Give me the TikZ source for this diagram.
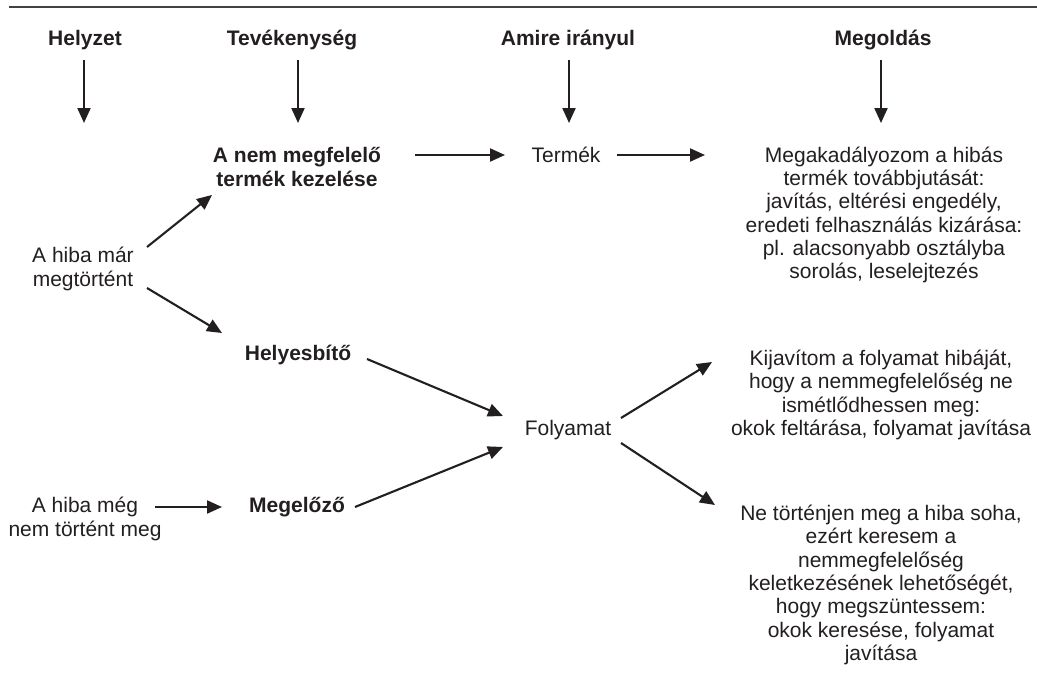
\documentclass[tikz,border=0pt]{standalone}
\usepackage{fontspec}
\setmainfont{Liberation Sans}
\usetikzlibrary{arrows.meta}
\definecolor{ink}{HTML}{231F20}
\tikzset{
  txt/.style={text=ink, inner sep=0pt, align=center, font=\fontsize{21}{23.3}\selectfont},
  head/.style={txt, font=\fontsize{21}{23.3}\selectfont\bfseries},
  bold/.style={txt, font=\fontsize{21}{23.3}\selectfont\bfseries},
  arr/.style={draw=ink, line width=2.1pt, -{Triangle[length=15pt,width=13pt]}},
}
\begin{document}
\begin{tikzpicture}[x=1pt,y=-1pt]
\useasboundingbox (0,0) rectangle (1037,680);
\fill[white] (0,0) rectangle (1037,680);

% rule across the top
\draw[ink!85, line width=1.5pt] (9,7) -- (1037,7);

% column headings
\node[head] (hHelyzet) at (85,40) {Helyzet};
\node[head] (hTev) at (292,40) {Tevékenység};
\node[head] (hAmire) at (568,40) {Amire irányul};
\node[head] (hMeg) at (883,40) {Megoldás};

\coordinate (dHelyzet) at (84,123);
\coordinate (dTev) at (298,123);
\coordinate (dAmire) at (569,123);
\coordinate (dMeg) at (881,123);

\draw[arr] ([shift={(-1,20)}]hHelyzet.center) -- (dHelyzet);
\draw[arr] ([shift={(6,20)}]hTev.center) -- (dTev);
\draw[arr] ([shift={(1,20)}]hAmire.center) -- (dAmire);
\draw[arr] ([shift={(-2,20)}]hMeg.center) -- (dMeg);

% situations
\node[txt] (mar) at (83,269) {A hiba már\\megtörtént};
\node[txt] (meg) at (85,519) {A hiba még\\nem történt meg};

% activities
\node[bold] (kezeles) at (297,167) {A nem megfelelő\\termék kezelése};
\node[bold] (helyes) at (298,355) {Helyesbítő};
\node[bold] (megelozo) at (297,507) {Megelőző};

% targets
\node[txt] (termek) at (566,155) {Termék};
\node[txt] (folyamat) at (568,430) {Folyamat};

% solutions
\node[txt] (sol1) at (884,215) {Megakadályozom a hibás\\termék továbbjutását:\\javítás, eltérési engedély,\\eredeti felhasználás kizárása:\\pl. alacsonyabb osztályba\\sorolás, leselejtezés};
\node[txt] (sol2) at (881,395) {Kijavítom a folyamat hibáját,\\hogy a nemmegfelelőség ne\\ismétlődhessen meg:\\okok feltárása, folyamat javítása};
\node[txt] (sol3) at (881,585) {Ne történjen meg a hiba soha,\\ezért keresem a\\nemmegfelelőség\\keletkezésének lehetőségét,\\hogy megszüntessem:\\okok keresése, folyamat\\javítása};

% connectors
\draw[arr] ([shift={(64,-22)}]mar.center) -- ([shift={(-85,28)}]kezeles.center);
\draw[arr] ([shift={(64,19)}]mar.center) -- ([shift={(-76,-22)}]helyes.center);
\draw[arr] ([shift={(70,-12)}]meg.center) -- ([shift={(-75,0)}]megelozo.center);
\draw[arr] ([shift={(118,-12)}]kezeles.center) -- ([shift={(-61,0)}]termek.center);
\draw[arr] ([shift={(51,0)}]termek.center) -- ([shift={(-179,-60)}]sol1.center);
\draw[arr] ([shift={(69,4)}]helyes.center) -- ([shift={(-65,-14)}]folyamat.center);
\draw[arr] ([shift={(58,0)}]megelozo.center) -- ([shift={(-65,17)}]folyamat.center);
\draw[arr] ([shift={(53,-12)}]folyamat.center) -- ([shift={(-169,-33)}]sol2.center);
\draw[arr] ([shift={(53,13)}]folyamat.center) -- ([shift={(-166,-80)}]sol3.center);
\end{tikzpicture}
\end{document}
